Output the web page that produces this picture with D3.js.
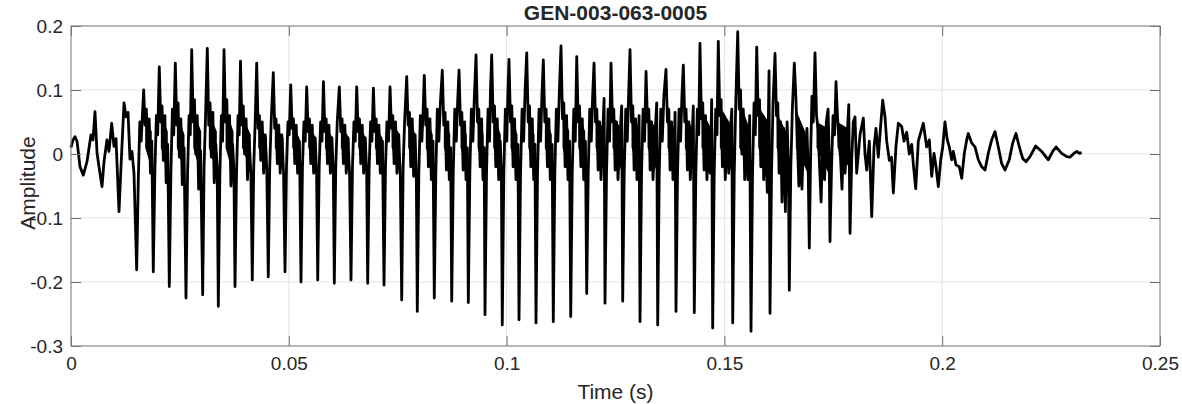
<!DOCTYPE html>
<html>
<head>
<meta charset="utf-8">
<script src="https://cdn.jsdelivr.net/npm/d3@7"></script>
<style>
	body { margin: 0; background: #fff; }
	text { font-family: Arial, 'Liberation Sans', sans-serif; fill: #262626; }
	.axis path { display: none; }
	.axis line { stroke: #6e6e6e; }
</style>
</head>
<body>
<script>
// waveform, [time in ms, amplitude]
const onset = [
	[0.00, 0.010], [0.46, 0.022], [0.92, 0.027], [1.38, 0.020], [2.07, -0.020], [2.82, -0.033],
	[3.67, -0.012], [4.59, 0.030], [5.05, 0.022], [5.51, 0.066], [5.97, 0.002], [6.43, -0.020],
	[7.12, -0.051], [7.58, -0.012], [8.26, 0.022], [8.72, 0.004], [9.34, 0.048], [9.87, 0.012],
	[10.33, 0.024], [11.02, -0.090], [11.48, -0.020], [12.17, 0.080], [12.63, 0.058], [13.09, 0.065],
	[13.54, -0.008], [14.00, 0.004], [14.46, -0.030]
]

const pulsesA = [
	[15.08, -0.181], [15.45, -0.04], [15.80, 0.05], [16.10, 0.02], [16.68, 0.100], [17.00, 0.045], [17.30, 0.070], [17.60, 0.010], [17.95, 0.055], [18.25, -0.030], [18.55, 0.020],
	[18.89, -0.184], [19.25, -0.03], [19.60, 0.06], [19.90, 0.03], [20.27, 0.136], [20.60, 0.050], [20.90, 0.075], [21.20, -0.010], [21.55, 0.060], [21.85, -0.045], [22.20, 0.015],
	[22.57, -0.207], [22.93, -0.03], [23.28, 0.07], [23.58, 0.03], [23.95, 0.142], [24.28, 0.045], [24.58, 0.080], [24.88, -0.005], [25.22, 0.055], [25.55, -0.048], [25.95, 0.010],
	[26.40, -0.225], [26.76, -0.03], [27.10, 0.06], [27.38, 0.03], [27.71, 0.163], [28.04, 0.050], [28.34, 0.085], [28.64, 0.000], [28.98, 0.060], [29.30, -0.055], [29.75, 0.005],
	[30.23, -0.220], [30.55, -0.02], [30.85, 0.05], [31.29, 0.165], [31.62, 0.045], [31.92, 0.080], [32.22, -0.005], [32.56, 0.065], [32.88, -0.045], [33.25, 0.015], [33.55, -0.020],
	[33.82, -0.238], [34.18, -0.03], [34.52, 0.06], [34.80, 0.02], [35.13, 0.163], [35.46, 0.050], [35.76, 0.085], [36.06, 0.005], [36.40, 0.060], [36.72, -0.050], [37.10, 0.015], [37.40, -0.025],
	[37.65, -0.207], [38.00, -0.03], [38.35, 0.06], [38.62, 0.03], [38.91, 0.145], [39.24, 0.045], [39.55, 0.075], [39.85, 0.000], [40.20, 0.055], [40.52, -0.040], [40.90, 0.020], [41.30, -0.030],
	[41.62, -0.197], [41.95, -0.02], [42.28, 0.05], [42.63, 0.142], [42.96, 0.040], [43.26, 0.060], [43.56, -0.010], [43.90, 0.050], [44.22, -0.030], [44.60, 0.030], [44.95, -0.025],
	[45.29, -0.192], [45.62, -0.02], [45.95, 0.05], [46.44, 0.127], [46.77, 0.040], [47.07, 0.055], [47.37, -0.015], [47.70, 0.045], [48.02, -0.030], [48.40, 0.030], [48.80, -0.030],
	[49.13, -0.184], [49.47, -0.02], [49.80, 0.05], [50.10, 0.03], [50.44, 0.108], [50.77, 0.040], [51.07, 0.055], [51.37, -0.015], [51.70, 0.045], [52.02, -0.030], [52.45, 0.020],
	[52.80, -0.200], [53.14, -0.02], [53.47, 0.05], [53.77, 0.02], [54.11, 0.105], [54.44, 0.035], [54.74, 0.055], [55.04, -0.015], [55.38, 0.045], [55.70, -0.030], [56.05, 0.025], [56.38, -0.030],
	[56.64, -0.197], [56.98, -0.02], [57.31, 0.05], [57.61, 0.02], [57.95, 0.113], [58.28, 0.035], [58.58, 0.055], [58.88, -0.015], [59.22, 0.045], [59.54, -0.030], [59.90, 0.025], [60.22, -0.030],
	[60.45, -0.202], [60.78, -0.02], [61.12, 0.05], [61.60, 0.105], [61.93, 0.035], [62.23, 0.055], [62.53, -0.015], [62.87, 0.045], [63.19, -0.030], [63.55, 0.025], [63.95, -0.030],
	[64.28, -0.197], [64.62, -0.02], [64.95, 0.05], [65.25, 0.02], [65.59, 0.105], [65.92, 0.035], [66.22, 0.055], [66.52, -0.015], [66.86, 0.045], [67.18, -0.030], [67.55, 0.025], [67.88, -0.030]
]

const pulsesB = [
	[68.11, -0.202], [68.45, -0.02], [68.78, 0.05], [69.08, 0.02], [69.42, 0.103], [69.75, 0.035], [70.05, 0.055], [70.35, -0.015], [70.69, 0.045], [71.01, -0.030], [71.50, 0.020],
	[71.86, -0.205], [72.20, -0.02], [72.53, 0.05], [72.90, 0.02], [73.24, 0.105], [73.57, 0.040], [73.87, 0.060], [74.17, -0.015], [74.51, 0.050], [74.83, -0.030], [75.20, 0.030], [75.60, -0.035],
	[75.92, -0.228], [76.25, -0.02], [76.58, 0.05], [77.07, 0.121], [77.40, 0.045], [77.70, 0.065], [78.00, -0.020], [78.34, 0.055], [78.66, -0.035], [79.00, 0.030], [79.28, -0.040],
	[79.50, -0.246], [79.85, -0.03], [80.20, 0.06], [80.55, 0.02], [80.85, 0.07], [81.10, 0.123], [81.45, 0.045], [81.75, 0.070], [82.05, -0.020], [82.40, 0.055], [82.72, -0.040], [83.10, 0.020],
	[83.40, -0.225], [83.75, -0.03], [84.10, 0.07], [84.45, 0.02], [84.80, 0.08], [85.24, 0.131], [85.58, 0.045], [85.88, 0.065], [86.18, -0.025], [86.52, 0.050], [86.84, -0.040], [87.15, 0.010],
	[87.40, -0.230], [87.75, -0.03], [88.10, 0.07], [88.45, 0.02], [88.75, 0.08], [89.08, 0.131], [89.42, 0.045], [89.72, 0.065], [90.02, -0.025], [90.36, 0.050], [90.68, -0.040], [90.98, 0.010],
	[91.21, -0.232], [91.56, -0.03], [91.91, 0.07], [92.26, 0.02], [92.60, 0.09], [92.98, 0.155], [93.32, 0.050], [93.62, 0.070], [93.92, -0.020], [94.26, 0.055], [94.58, -0.040], [94.85, 0.010],
	[95.04, -0.251], [95.39, -0.03], [95.74, 0.07], [96.08, 0.02], [96.30, 0.10], [96.58, 0.155], [96.92, 0.050], [97.22, 0.075], [97.52, -0.020], [97.86, 0.055], [98.18, -0.040], [98.55, 0.020], [98.80, -0.030],
	[99.01, -0.267], [99.36, -0.03], [99.71, 0.07], [100.05, 0.02], [100.28, 0.09], [100.55, 0.148], [100.89, 0.050], [101.19, 0.075], [101.49, -0.020], [101.83, 0.055], [102.15, -0.040], [102.60, 0.015],
	[102.85, -0.259], [103.20, -0.03], [103.55, 0.07], [103.90, 0.02], [104.25, 0.10], [104.62, 0.158], [104.96, 0.050], [105.26, 0.075], [105.56, -0.020], [105.90, 0.055], [106.22, -0.040], [106.50, 0.015],
	[106.75, -0.264], [107.10, -0.03], [107.45, 0.07], [107.80, 0.02], [108.10, 0.09], [108.43, 0.147], [108.77, 0.050], [109.07, 0.070], [109.37, -0.020], [109.71, 0.055], [110.03, -0.040], [110.45, 0.015],
	[110.72, -0.262], [111.07, -0.03], [111.42, 0.07], [111.77, 0.02], [112.12, 0.10], [112.49, 0.169], [112.83, 0.055], [113.13, 0.080], [113.43, -0.020], [113.77, 0.060], [114.09, -0.040], [114.45, 0.020],
	[114.72, -0.254], [115.07, -0.03], [115.42, 0.07], [115.76, 0.02], [116.10, 0.152], [116.44, 0.050], [116.74, 0.075], [117.04, -0.020], [117.38, 0.055], [117.70, -0.040], [118.10, 0.020],
	[118.39, -0.218], [118.74, -0.03], [119.09, 0.07], [119.44, 0.02], [119.75, 0.09], [120.07, 0.142], [120.41, 0.050], [120.71, 0.070], [121.01, -0.025], [121.35, 0.050], [121.67, -0.040], [122.00, 0.020], [122.38, 0.087]
]

const pulsesC = [
	[122.59, -0.233], [122.94, -0.03], [123.29, 0.07], [123.63, 0.02], [123.97, 0.142], [124.31, 0.050], [124.61, 0.070], [124.91, -0.025], [125.25, 0.050], [125.57, -0.040], [125.95, 0.020], [126.42, 0.075],
	[126.65, -0.230], [127.00, -0.03], [127.35, 0.07], [127.70, 0.02], [128.00, 0.09], [128.33, 0.163], [128.67, 0.050], [128.97, 0.075], [129.27, -0.025], [129.61, 0.055], [129.93, -0.040], [130.20, 0.020], [130.42, 0.060],
	[130.63, -0.262], [130.98, -0.03], [131.33, 0.07], [131.67, 0.02], [132.01, 0.129], [132.35, 0.050], [132.65, 0.070], [132.95, -0.025], [133.29, 0.050], [133.61, -0.040], [134.00, 0.020], [134.46, 0.080],
	[134.69, -0.267], [135.04, -0.03], [135.39, 0.07], [135.74, 0.02], [136.10, 0.09], [136.59, 0.132], [136.93, 0.050], [137.23, 0.070], [137.53, -0.025], [137.87, 0.050], [138.19, -0.040], [138.50, 0.020], [138.68, 0.065],
	[138.89, -0.246], [139.24, -0.03], [139.59, 0.07], [139.94, 0.02], [140.25, 0.09], [140.57, 0.139], [140.91, 0.050], [141.21, 0.070], [141.51, -0.025], [141.85, 0.050], [142.17, -0.040], [142.55, 0.020], [142.86, 0.075],
	[143.09, -0.248], [143.44, -0.03], [143.79, 0.07], [144.10, 0.03], [144.39, 0.173], [144.73, 0.055], [145.03, 0.080], [145.33, -0.025], [145.67, 0.060], [145.99, -0.040], [146.40, 0.020], [146.75, -0.030], [147.08, 0.085],
	[147.31, -0.272], [147.66, -0.03], [148.01, 0.07], [148.30, 0.03], [148.60, 0.176], [148.94, 0.060], [149.24, 0.085], [149.54, -0.020], [149.88, 0.060], [150.20, -0.040], [150.60, 0.030], [151.00, -0.030], [151.40, 0.040], [151.70, 0.070],
	[151.91, -0.264], [152.26, -0.03], [152.61, 0.08], [153.06, 0.191], [153.40, 0.070], [153.70, 0.100], [154.00, 0.000], [154.34, 0.070], [154.66, -0.040], [155.00, 0.040], [155.40, -0.040], [155.80, 0.060],
	[156.11, -0.277], [156.46, -0.03], [156.81, 0.08], [157.10, 0.03], [157.42, 0.167], [157.76, 0.060], [158.06, 0.085], [158.36, -0.020], [158.70, 0.060], [159.02, -0.040], [159.40, 0.030], [159.85, -0.060], [160.25, 0.130],
	[160.47, -0.249], [160.82, -0.03], [161.17, 0.08], [161.62, 0.157], [161.96, 0.060], [162.26, 0.080], [162.56, -0.030], [162.90, 0.050], [163.22, -0.075], [163.60, 0.040], [164.00, -0.090], [164.40, 0.050], [164.70, -0.020],
	[164.90, -0.213], [165.25, -0.02], [165.60, 0.07], [166.05, 0.142], [166.40, 0.090], [166.75, 0.020], [167.10, -0.050], [167.45, 0.030], [167.80, -0.055], [168.20, 0.030], [168.60, -0.010], [168.95, 0.040], [169.25, -0.030],
	[169.49, -0.147], [169.80, 0.000], [170.10, 0.090], [170.40, 0.050], [170.80, 0.158], [171.15, 0.060], [171.50, 0.040], [171.85, -0.020], [172.20, -0.075], [172.60, 0.030], [173.00, -0.040], [173.40, 0.050], [173.80, 0.070], [174.05, 0.000],
	[174.24, -0.137], [174.60, -0.020], [174.95, 0.060], [175.30, 0.030], [175.62, 0.113], [175.95, 0.060], [176.30, 0.020], [176.65, -0.005], [177.00, -0.055], [177.35, 0.030], [177.70, -0.030], [178.05, 0.010], [178.55, 0.077]
]

const decay = [
	[178.84, -0.124], [179.22, -0.010], [179.59, 0.050], [179.98, 0.058], [180.37, -0.030], [181.13, 0.030],
	[181.89, 0.056], [182.28, 0.000], [182.67, -0.025], [183.27, 0.020], [183.82, -0.098], [184.34, 0.010],
	[184.80, 0.040], [185.33, -0.005], [185.88, 0.045], [186.34, 0.084], [186.87, 0.058], [187.26, 0.020],
	[187.86, -0.010], [188.36, -0.005], [188.78, -0.061], [189.40, 0.013], [189.93, 0.048], [190.70, 0.043],
	[191.23, 0.020], [191.85, 0.034], [192.45, 0.000], [193.00, 0.015], [193.37, -0.016], [193.92, -0.054],
	[194.52, 0.020]
]

const tail = [
	[195.66, 0.048], [196.44, 0.011], [197.04, 0.022], [197.59, -0.035], [198.12, 0.001], [198.58, -0.020],
	[199.11, -0.051], [199.66, -0.009], [200.12, 0.011], [200.64, 0.050], [201.17, 0.022], [201.63, 0.011],
	[202.18, -0.009], [202.55, 0.004], [203.17, -0.017], [203.93, -0.020], [204.48, -0.038], [205.08, 0.001],
	[205.63, 0.022], [205.99, 0.032], [206.77, 0.017], [207.53, 0.011], [208.29, -0.009], [209.07, -0.020],
	[209.83, -0.025], [210.58, 0.001], [211.36, 0.022], [212.12, 0.035], [212.88, 0.011], [213.66, -0.015],
	[214.42, -0.025], [215.40, -0.009], [216.18, 0.017], [216.94, 0.032], [217.70, 0.011], [218.48, -0.007],
	[219.24, -0.012], [220.16, -0.004], [221.46, 0.0125], [222.84, 0.004], [224.36, -0.009], [225.37, 0.004],
	[226.13, 0.011], [227.43, 0.001], [228.58, -0.004], [229.34, -0.005], [230.26, 0.001], [230.88, 0.004],
	[231.48, 0.001], [232.02, 0.002]
]

// dense ripple between pulses, one entry per cycle: [time in ms, low edge, high edge] at its start and end
const rippleA = [
	[[17.03, 0.010, 0.055], [18.54, -0.025, 0.035]],
	[[20.62, 0.010, 0.060], [22.22, -0.030, 0.035]],
	[[24.30, 0.010, 0.065], [26.05, -0.030, 0.030]],
	[[28.06, 0.010, 0.070], [29.88, -0.035, 0.035]],
	[[31.64, 0.010, 0.065], [33.47, -0.030, 0.035]],
	[[35.48, 0.010, 0.070], [37.30, -0.035, 0.035]],
	[[39.26, 0.010, 0.060], [41.27, -0.025, 0.030]],
	[[42.98, 0.010, 0.050], [44.94, -0.020, 0.025]],
	[[46.79, 0.010, 0.045], [48.78, -0.020, 0.025]],
	[[50.79, 0.010, 0.045], [52.45, -0.020, 0.025]],
	[[54.46, 0.010, 0.045], [56.29, -0.020, 0.025]],
	[[58.30, 0.010, 0.045], [60.10, -0.020, 0.025]],
	[[61.95, 0.010, 0.045], [63.93, -0.020, 0.025]],
	[[65.94, 0.010, 0.045], [67.76, -0.020, 0.025]]
]

const rippleB = [
	[[69.77, 0.010, 0.045], [71.51, -0.020, 0.025]],
	[[73.59, 0.010, 0.050], [75.57, -0.020, 0.030]],
	[[77.42, 0.010, 0.055], [79.15, -0.025, 0.030]],
	[[81.45, 0.010, 0.060], [83.05, -0.025, 0.030]],
	[[85.59, 0.010, 0.055], [87.05, -0.025, 0.030]],
	[[89.43, 0.010, 0.055], [90.86, -0.025, 0.030]],
	[[93.33, 0.010, 0.060], [94.69, -0.025, 0.030]],
	[[96.93, 0.010, 0.065], [98.66, -0.025, 0.030]],
	[[100.90, 0.010, 0.065], [102.50, -0.025, 0.030]],
	[[104.97, 0.010, 0.065], [106.40, -0.025, 0.030]],
	[[108.78, 0.010, 0.060], [110.37, -0.025, 0.030]],
	[[112.84, 0.010, 0.070], [114.37, -0.025, 0.035]],
	[[116.45, 0.010, 0.065], [118.04, -0.025, 0.035]],
	[[120.42, 0.010, 0.060], [122.24, -0.025, 0.040]]
]

const rippleC = [
	[[124.32, 0.010, 0.060], [126.30, -0.025, 0.040]],
	[[128.68, 0.010, 0.065], [130.28, -0.025, 0.040]],
	[[132.36, 0.010, 0.060], [134.34, -0.025, 0.040]],
	[[136.94, 0.010, 0.060], [138.54, -0.025, 0.040]],
	[[140.92, 0.010, 0.060], [142.74, -0.025, 0.040]],
	[[144.74, 0.010, 0.070], [146.96, -0.025, 0.040]],
	[[148.95, 0.010, 0.075], [151.56, -0.025, 0.045]],
	[[153.41, 0.010, 0.085], [155.76, -0.025, 0.040]],
	[[157.77, 0.010, 0.075], [160.12, -0.035, 0.050]],
	[[161.97, 0.010, 0.065], [164.55, -0.040, 0.030]],
	[[166.40, 0.010, 0.070], [169.14, -0.030, 0.025]],
	[[171.15, 0.010, 0.050], [173.89, -0.030, 0.040]],
	[[175.97, 0.010, 0.050], [178.49, -0.020, 0.040]]
]

const xTicks = [0, 0.05, 0.1, 0.15, 0.2, 0.25]
const yTicks = [-0.3, -0.2, -0.1, 0, 0.1, 0.2]

const titleText = 'GEN-003-063-0005'
const xLabel = 'Time (s)'
const yLabel = 'Amplitude'

// afmetingen
const margin = { top: 26, bottom: 58, left: 71, right: 22 }
const width = 1182 - margin.left - margin.right
const height = 404 - margin.top - margin.bottom

const svg = d3
	.select('body')
	.append('svg')
	.attr('width', 1182)
	.attr('height', 404)

const g = svg.append('g').attr('transform', `translate(${margin.left},${margin.top})`)

const xscale = d3.scaleLinear().domain([0, 0.25]).range([0, width])
const yscale = d3.scaleLinear().domain([-0.3, 0.2]).range([height, 0])

// grid
g.append('g')
	.selectAll('line')
	.data(xTicks)
	.join('line')
	.attr('x1', d => xscale(d))
	.attr('x2', d => xscale(d))
	.attr('y1', 0)
	.attr('y2', height)
	.attr('stroke', '#e3e3e3')
g.append('g')
	.selectAll('line')
	.data(yTicks)
	.join('line')
	.attr('x1', 0)
	.attr('x2', width)
	.attr('y1', d => yscale(d))
	.attr('y2', d => yscale(d))
	.attr('stroke', '#e3e3e3')

// ripple band, one patch per cycle
const area = d3
	.area()
	.x(d => xscale(d[0] / 1000))
	.y0(d => yscale(d[1]))
	.y1(d => yscale(d[2]))

g.append('g')
	.selectAll('path')
	.data(rippleA.concat(rippleB, rippleC))
	.join('path')
	.attr('d', area)
	.attr('fill', '#000')

// signal
const wave = onset.concat(pulsesA, pulsesB, pulsesC, decay, tail)
const line = d3
	.line()
	.x(d => xscale(d[0] / 1000))
	.y(d => yscale(d[1]))

g.append('path')
	.datum(wave)
	.attr('d', line)
	.attr('fill', 'none')
	.attr('stroke', '#000')
	.attr('stroke-width', 2.8)
	.attr('stroke-linejoin', 'round')

// axes, ticks inside on all four sides
const fmt = d => String(d)
g.append('g')
	.attr('class', 'axis')
	.attr('transform', `translate(0,${height})`)
	.call(d3.axisBottom(xscale).tickValues(xTicks).tickFormat(fmt).tickSize(-10).tickPadding(11))
	.call(a => a.selectAll('text').style('font-size', '19px'))
g.append('g')
	.attr('class', 'axis')
	.call(d3.axisTop(xscale).tickValues(xTicks).tickFormat('').tickSize(-10))
g.append('g')
	.attr('class', 'axis')
	.call(d3.axisLeft(yscale).tickValues(yTicks).tickFormat(fmt).tickSize(-10).tickPadding(8))
	.call(a => a.selectAll('text').style('font-size', '19px'))
g.append('g')
	.attr('class', 'axis')
	.attr('transform', `translate(${width},0)`)
	.call(d3.axisRight(yscale).tickValues(yTicks).tickFormat('').tickSize(-10))

g.append('rect')
	.attr('width', width)
	.attr('height', height)
	.attr('fill', 'none')
	.attr('stroke', '#808080')

// labels
svg.append('text')
	.attr('x', margin.left + width / 2)
	.attr('y', 19.5)
	.attr('text-anchor', 'middle')
	.style('font-size', '21px')
	.style('font-weight', 'bold')
	.text(titleText)

svg.append('text')
	.attr('x', margin.left + width / 2)
	.attr('y', 399)
	.attr('text-anchor', 'middle')
	.style('font-size', '21px')
	.text(xLabel)

svg.append('text')
	.attr('transform', `translate(35,${margin.top + height / 2 - 3}) rotate(-90)`)
	.attr('text-anchor', 'middle')
	.style('font-size', '21px')
	.text(yLabel)
</script>
</body>
</html>
